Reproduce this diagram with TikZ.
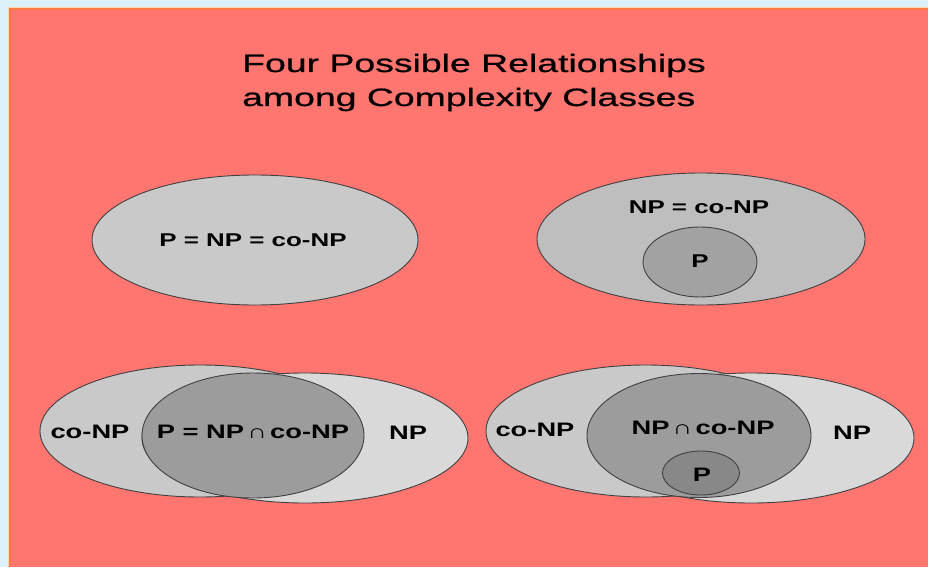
\documentclass[tikz,border=0pt]{standalone}
\usepackage{fontspec}
\setmainfont{Liberation Sans}
\newfontfamily\headfont[FakeStretch=1.49,FakeBold=0.7]{Liberation Sans}
\newfontfamily\setfont[FakeStretch=1.4]{Liberation Sans}
\usetikzlibrary{shapes.geometric}

\definecolor{bgblue}{RGB}{221,241,250}
\definecolor{panelred}{RGB}{255,117,112}
\definecolor{edgeorange}{RGB}{255,122,64}
\definecolor{edgepale}{RGB}{255,214,178}
\definecolor{greyA}{RGB}{201,201,201}
\definecolor{greyB}{RGB}{190,190,190}
\definecolor{greyC}{RGB}{162,162,162}
\definecolor{greyD}{RGB}{217,217,217}
\definecolor{greyE}{RGB}{156,156,156}
\definecolor{greyF}{RGB}{136,136,136}

\tikzset{
  setblob/.style={ellipse, draw=black!75, line width=0.9pt, inner sep=0pt},
  headline/.style={anchor=base west, inner sep=0pt, font=\headfont\fontsize{25.1}{30}\selectfont},
  toplabel/.style={inner sep=0pt, font=\setfont\bfseries\fontsize{18.5}{22}\selectfont},
  lowlabel/.style={inner sep=0pt, font=\setfont\bfseries\fontsize{19.5}{23}\selectfont},
}
\newcommand{\capsym}{{\mdseries\,∩\,}}

\begin{document}
\begin{tikzpicture}[x=1pt,y=-1pt]
  % page and panel
  \fill[bgblue] (0,0) rectangle (928,567);
  \useasboundingbox (0,0) rectangle (928,567);
  \fill[panelred] (9,8) rectangle (928,567);
  \draw[edgepale, line width=1pt] (8.5,567) |- (928,7.5);
  \draw[edgeorange, line width=1.5pt] (10,567) |- (928,9);

  % heading
  \node[headline] (title1) at (242,72) {Four Possible Relationships};
  \node[headline] (title2) at (242,106) {among Complexity Classes};

  % case 1: all three classes coincide
  \node[setblob, fill=greyA, minimum width=326pt, minimum height=130pt] (allsame) at (255,240) {};
  \node[toplabel] (allsameL) at (253,240) {P = NP = co-NP};

  % case 2: NP closed under complement, P strictly inside
  \node[setblob, fill=greyB, minimum width=328pt, minimum height=132pt] (npeq) at (701,239) {};
  \node[setblob, fill=greyC, minimum width=114pt, minimum height=70pt] (pin) at (700,262) {};
  \node[toplabel] (npeqL) at (699,207) {NP = co-NP};
  \node[toplabel] (pinL) at (700,261) {P};

  % case 3: P equals the intersection
  \node[setblob, fill=greyA, minimum width=320pt, minimum height=132pt] (conpA) at (200,431) {};
  \node[setblob, fill=greyD, minimum width=326pt, minimum height=130pt] (npA) at (305,438) {};
  \node[setblob, fill=greyE, minimum width=222pt, minimum height=125pt] (capA) at (253,435.5) {};
  \node[lowlabel] (conpAL) at (90,432) {co-NP};
  \node[lowlabel] (capAL) at (253,432) {P = NP\capsym co-NP};
  \node[lowlabel] (npAL) at (408,433) {NP};

  % case 4: P strictly inside the intersection
  \node[setblob, fill=greyA, minimum width=320pt, minimum height=132pt] (conpB) at (646,431) {};
  \node[setblob, fill=greyD, minimum width=326pt, minimum height=130pt] (npB) at (751,438) {};
  \node[setblob, fill=greyE, minimum width=224pt, minimum height=124pt] (capB) at (699,435.5) {};
  \node[setblob, fill=greyF, minimum width=77pt, minimum height=44pt] (pB) at (701,473) {};
  \node[lowlabel] (conpBL) at (535,430) {co-NP};
  \node[lowlabel] (capBL) at (703,428) {NP\capsym co-NP};
  \node[lowlabel] (npBL) at (852,433) {NP};
  \node[lowlabel] (pBL) at (702,475) {P};
\end{tikzpicture}
\end{document}
